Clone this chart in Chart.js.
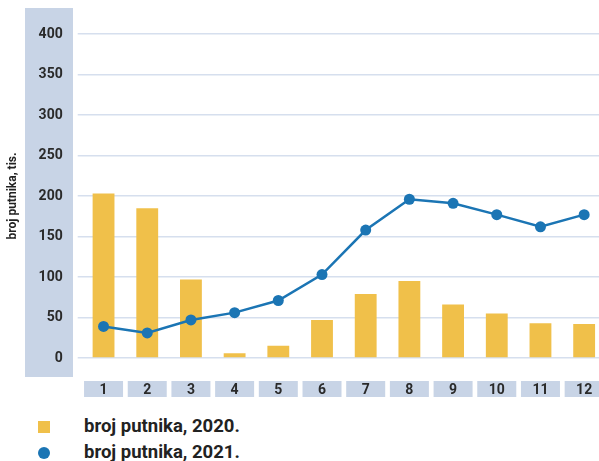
<!DOCTYPE html>
<html>
<head>
<meta charset="utf-8">
<script src="https://cdn.jsdelivr.net/npm/chart.js@4/dist/chart.umd.min.js"></script>
<style>
  html, body { margin: 0; padding: 0; background: #fff; overflow: hidden; width: 599px; height: 461px; }
  #wrap { position: absolute; left: 0; top: 0; width: 606px; height: 400px; }
  .leg { position: absolute; left: 84px; font-family: Roboto, sans-serif; font-weight: bold; font-size: 18.5px; line-height: 20px; color: #222; white-space: nowrap; }
  .sw { position: absolute; left: 38px; width: 12px; height: 12px; }
</style>
</head>
<body>
<div id="wrap"><canvas id="c" width="606" height="400"></canvas></div>
<div class="sw" style="top:421px;background:#f0c04a;"></div>
<div class="leg" style="top:416px;">broj putnika, 2020.</div>
<div class="sw" style="top:447px;background:#1b75b4;border-radius:50%;"></div>
<div class="leg" style="top:442px;">broj putnika, 2021.</div>
<script>
const categories = ['1','2','3','4','5','6','7','8','9','10','11','12'];
const passengers2020 = [203, 185, 97, 6, 15, 47, 79, 95, 66, 55, 43, 42];
const passengers2021 = [39, 31, 47, 56, 71, 103, 158, 196, 191, 177, 162, 177];
const yTicks = [0, 50, 100, 150, 200, 250, 300, 350, 400];
const yTitle = 'broj putnika, tis.';
const seriesNames = ['broj putnika, 2020.', 'broj putnika, 2021.'];

const BAND = '#c8d4e6';
const bgPlugin = {
  id: 'bg',
  beforeDraw(chart) {
    const ctx = chart.ctx;
    ctx.save();
    ctx.fillStyle = BAND;
    ctx.fillRect(25, 8, 48, 369);
    const xs = chart.scales.x;
    for (let i = 0; i < categories.length; i++) {
      const cx = xs.getPixelForTick(i);
      ctx.fillRect(cx - 19.5, 381, 39, 16);
    }
    ctx.restore();
  }
};

new Chart(document.getElementById('c'), {
  data: {
    labels: categories,
    datasets: [
      {
        type: 'line',
        label: seriesNames[1],
        data: passengers2021,
        borderColor: '#1b75b4',
        backgroundColor: '#1b75b4',
        borderWidth: 2.5,
        pointRadius: 5.5,
        pointHoverRadius: 5.5,
        pointBackgroundColor: '#1b75b4',
        pointBorderWidth: 0,
        tension: 0,
        order: 0
      },
      {
        type: 'bar',
        label: seriesNames[0],
        data: passengers2020,
        backgroundColor: '#f0c04a',
        barPercentage: 0.5,
        categoryPercentage: 1.0,
        order: 1
      }
    ]
  },
  options: {
    responsive: false,
    animation: false,
    devicePixelRatio: 1,
    layout: { autoPadding: false, padding: { top: 34, left: 0, right: 0, bottom: 0 } },
    plugins: { legend: { display: false }, tooltip: { enabled: false } },
    scales: {
      x: {
        offset: true,
        grid: { display: false, drawTicks: true, tickLength: 24 },
        border: { display: false },
        ticks: { color: '#2a2a2a', font: { family: 'Roboto', weight: 'bold', size: 14 }, padding: 0, maxRotation: 0 },
        afterFit(s) { s.height = 42; }
      },
      y: {
        min: 0, max: 400,
        afterBuildTicks(s) { s.ticks = yTicks.map(v => ({ value: v })); },
        grid: { color: '#d6dfee', lineWidth: 1.5, drawTicks: true, tickLength: 4 },
        border: { display: false },
        ticks: { color: '#2a2a2a', font: { family: 'Roboto', weight: 'bold', size: 14 }, padding: 15 },
        title: { display: true, text: yTitle, color: '#222', font: { family: 'Roboto', weight: 'bold', size: 12 }, padding: { top: 6, bottom: 0 } },
        afterFit(s) { s.width = 81.7; }
      }
    }
  },
  plugins: [bgPlugin]
});
</script>
</body>
</html>
